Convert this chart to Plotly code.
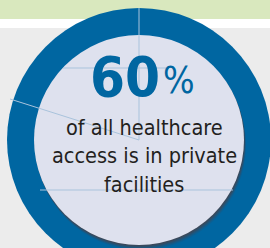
import plotly.graph_objects as go

# ---- data ----
share_value = [60]
share_unit = ["%"]
caption_lines = ["of all healthcare", "access is in private", "facilities"]

W, H = 270, 248
CX, CY = 139, 140
R_OUT, R_IN = 132, 105

BLUE = "#0066a1"
LAV = "#dee1ee"
GRAY = "#ececec"
GREEN = "#d9e8be"
TXT = "#231f20"
LINE = "#a9c3dc"

fig = go.Figure()
fig.add_trace(go.Scatter(x=[0], y=[0], mode="markers", marker=dict(opacity=0), hoverinfo="skip", showlegend=False))

shapes = []
shapes.append(dict(type="rect", x0=0, x1=W, y0=0, y1=19, fillcolor=GREEN, line=dict(width=0), layer="below"))
shapes.append(dict(type="rect", x0=0, x1=W, y0=19, y1=28, fillcolor="white", line=dict(width=0), layer="below"))
shapes.append(dict(type="rect", x0=0, x1=W, y0=28, y1=H, fillcolor=GRAY, line=dict(width=0), layer="below"))
shapes.append(dict(type="circle", x0=CX - R_OUT, x1=CX + R_OUT, y0=CY - R_OUT, y1=CY + R_OUT,
                   fillcolor=BLUE, line=dict(width=0), layer="below"))
# shadow layers (offset downward)
for dy, op in [(5, 0.15), (4, 0.2), (3, 0.3), (2, 0.4), (1, 0.5)]:
    shapes.append(dict(type="circle", x0=CX - R_IN + dy * 0.4, x1=CX + R_IN + dy * 0.4, y0=CY - R_IN + dy, y1=CY + R_IN + dy,
                       fillcolor=f"rgba(70,70,80,{op})", line=dict(width=0), layer="below"))
shapes.append(dict(type="circle", x0=CX - R_IN, x1=CX + R_IN, y0=CY - R_IN, y1=CY + R_IN,
                   fillcolor=LAV, line=dict(width=0), layer="below"))
# faint guide lines
for (x0, y0, x1, y1) in [(CX, 8, CX, CY), (10, 99, CX, CY), (63, 68, 167, 68), (40, 190, 233, 190)]:
    shapes.append(dict(type="line", x0=x0, y0=y0, x1=x1, y1=y1, line=dict(color=LINE, width=1), layer="below"))

fig.update_layout(shapes=shapes)

font_cond = "Liberation Sans Narrow, DejaVu Sans Condensed, sans-serif"
ann = []
ann.append(dict(x=162, y=96, text=f"<b>{share_value[0]}</b>", xanchor="right", yanchor="bottom",
                font=dict(family="DejaVu Sans Condensed", size=56, color=BLUE), showarrow=False, yshift=-15))
ann.append(dict(x=161, y=96, text=share_unit[0], xanchor="left", yanchor="bottom",
                font=dict(family=font_cond, size=37, color=BLUE), showarrow=False, yshift=-8))
for i, line in enumerate(caption_lines):
    ann.append(dict(x=CX + 5, y=127 + i * 28.5, text=line, xanchor="center", yanchor="middle",
                    font=dict(family=font_cond, size=21.5, color=TXT), showarrow=False))
fig.update_layout(annotations=ann)

fig.update_xaxes(range=[0, W], visible=False, fixedrange=True)
fig.update_yaxes(range=[H, 0], visible=False, fixedrange=True)
fig.update_layout(width=W, height=H, margin=dict(l=0, r=0, t=0, b=0),
                  paper_bgcolor=GRAY, plot_bgcolor=GRAY, showlegend=False)
fig.write_html("out.html", config={"displayModeBar": False},
               post_script="document.body.style.margin='0';document.body.style.padding='0';")
